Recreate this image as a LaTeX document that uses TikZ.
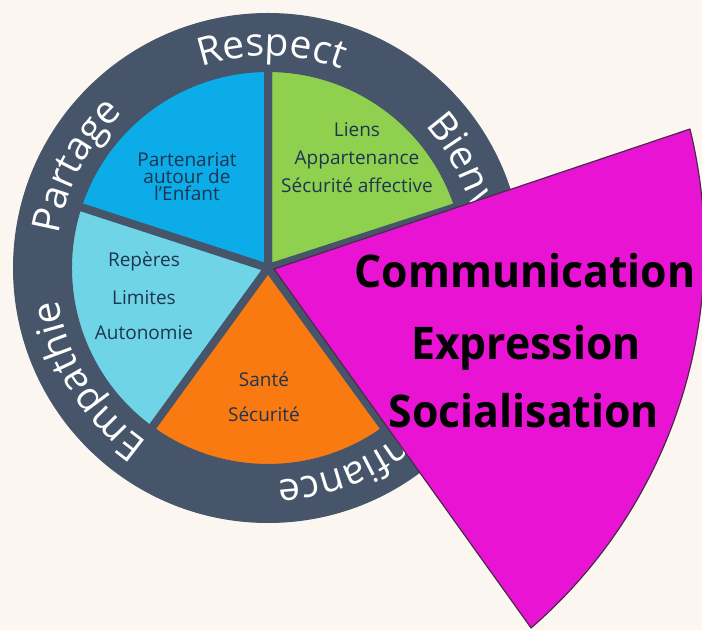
\documentclass[tikz,border=0pt]{standalone}
\usepackage{fontspec}
\usepackage{graphicx}
\setmainfont{Open Sans}
\usetikzlibrary{decorations.text}
\definecolor{bgc}{HTML}{FCF6F1}
\definecolor{ringc}{HTML}{46556A}
\definecolor{bluec}{HTML}{0BACE8}
\definecolor{greenc}{HTML}{8FD14F}
\definecolor{lbluec}{HTML}{6FD4E6}
\definecolor{orangec}{HTML}{FA7A12}
\definecolor{magc}{HTML}{E914D3}
\definecolor{txtc}{HTML}{1D3550}
\definecolor{magedge}{HTML}{4A2A48}
\newcommand\ringfont{\fontsize{39}{39}\selectfont}
\newcommand\narrowbig[1]{\scalebox{0.95}[1]{#1}}
\begin{document}
\begin{tikzpicture}[x=1pt,y=1pt,
  sector/.style={draw=ringc, line width=8pt},
  lbl/.style={text=txtc, font=\fontsize{19}{19}\selectfont, anchor=base, inner sep=0pt},
  biglbl/.style={text=black, font=\fontsize{45}{45}\selectfont\bfseries, anchor=base, inner sep=0pt},
  ringword/.style={decorate, decoration={text along path, text align=center, text color=white, text={|\ringfont|#1}}}
]
\clip (0,0) rectangle (702,630);
\fill[bgc] (0,0) rectangle (702,630);
\coordinate (C) at (268,362);
\coordinate (A) at (274,361);
\coordinate (M) at (202.4,381.5);
% outer ring
\fill[ringc] (C) circle[radius=255];
% sectors
\filldraw[sector, fill=greenc] (C) -- ([shift={(18:200)}]C) arc[start angle=18, end angle=90, radius=200] -- cycle;
\filldraw[sector, fill=bluec] (C) -- ([shift={(90:200)}]C) arc[start angle=90, end angle=162, radius=200] -- cycle;
\filldraw[sector, fill=lbluec] (C) -- ([shift={(162:200)}]C) arc[start angle=162, end angle=234, radius=200] -- cycle;
\filldraw[sector, fill=orangec] (C) -- ([shift={(234:200)}]C) arc[start angle=234, end angle=306, radius=200] -- cycle;
% ring words
\path[ringword=Respect] ([shift={(149:212)}]C) arc[start angle=149, end angle=29, radius=212];
\path[ringword=Partage] ([shift={(212:212)}]C) arc[start angle=212, end angle=92, radius=212];
\path[ringword=Empathie] ([shift={(272:212)}]C) arc[start angle=272, end angle=152, radius=212];
\path[ringword=Confiance] ([shift={(357:212)}]C) arc[start angle=357, end angle=237, radius=212];
\path[ringword=Bienveillance] ([shift={(70:212)}]C) arc[start angle=70, end angle=-50, radius=212];
% sector labels
\node[lbl] (b1) at (187,463) {Partenariat};
\node[lbl] (b2) at (187,446) {autour de};
\node[lbl] (b3) at (187,429) {l’Enfant};
\node[lbl] (g1) at (357,493) {Liens};
\node[lbl] (g2) at (357,465) {Appartenance};
\node[lbl] (g3) at (357,437) {Sécurité affective};
\node[lbl] (l1) at (144,363) {Repères};
\node[lbl] (l2) at (144,325) {Limites};
\node[lbl] (l3) at (144,290) {Autonomie};
\node[lbl] (o1) at (264,243) {Santé};
\node[lbl] (o2) at (264,208) {Sécurité};
% magenta exploded sector (shield-like)
\filldraw[fill=magc, draw=magedge, line width=1.2pt, line join=round]
  (A) -- ([shift={(-49.1:502)}]M) arc[start angle=-49.1, end angle=13.77, radius=502] -- cycle;
\node[biglbl] (m1) at (525,342) {\narrowbig{Communication}};
\node[biglbl] (m2) at (526,270) {\narrowbig{Expression}};
\node[biglbl] (m3) at (524,202) {\narrowbig{Socialisation}};
\end{tikzpicture}
\end{document}
